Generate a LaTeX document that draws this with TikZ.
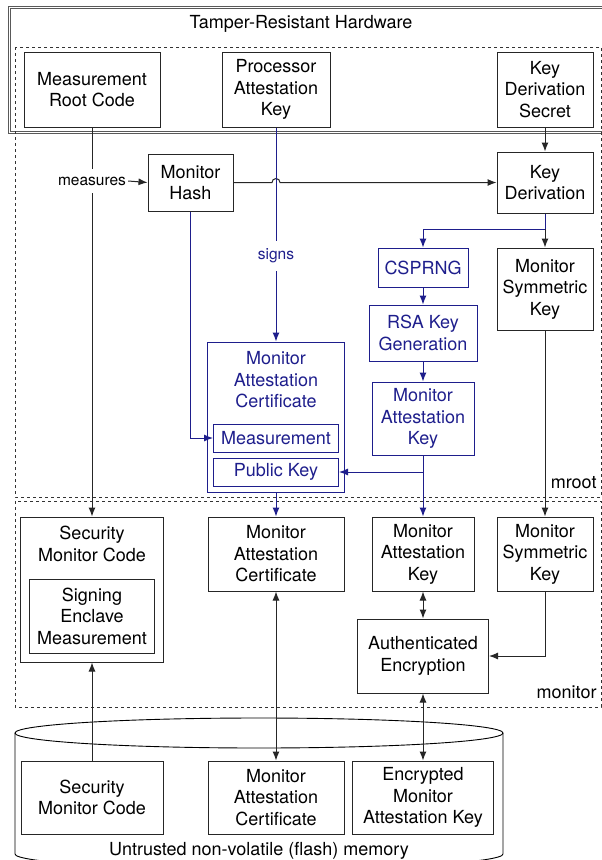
\documentclass[tikz,border=0pt]{standalone}
\usepackage{fontspec}
\setmainfont{TeX Gyre Heros}
\usetikzlibrary{arrows.meta,calc}
\definecolor{mblue}{RGB}{30,30,140}
\begin{document}
\begin{tikzpicture}[x=1pt,y=-1pt,
    >={Latex[length=9pt,width=7pt]},
    box/.style={draw=black!85,line width=1pt,align=center,inner sep=0pt,font=\fontsize{18}{21.5}\selectfont},
    bbox/.style={box,draw=mblue,text=mblue},
    lbl/.style={font=\fontsize{15.5}{18}\selectfont,fill=white,inner xsep=2pt,inner ysep=8pt},
    conn/.style={draw=black!85,line width=1pt},
    bconn/.style={draw=mblue,line width=1pt},
    region/.style={dashed,line width=0.9pt,draw=black!80}]
    \path[use as bounding box] (0,0) rectangle (602,860);
    \clip (0,0) rectangle (602,860);

    % regions
    \draw[line width=0.8pt,draw=black!65] (8,6) rectangle (612,133);
    \draw[line width=0.8pt,draw=black!65] (10,8) rectangle (610,131);
    \node[box,draw=none] (hw) at (301,24) {Tamper-Resistant Hardware};
    \draw[region] (15,47) rectangle (601,497);
    \draw[region] (15,501) rectangle (601,707);
    \node[box,draw=none,anchor=east] (mroot) at (597,483) {mroot};
    \node[box,draw=none,anchor=east] (monitor) at (597,692) {monitor};

    % untrusted storage
    \draw[line width=0.9pt] (259,733) ellipse [x radius=244,y radius=15];
    \draw[line width=0.9pt] (15,733) -- (15,854) arc[start angle=180,end angle=0,x radius=244,y radius=15] -- (503,733);
    \node[box,draw=none] (flash) at (259,851) {Untrusted non-volatile (flash) memory};

    % hardware
    \node[box,minimum width=136pt,minimum height=75pt] (mrc) at (92,89.5) {Measurement\\Root Code};
    \node[box,minimum width=108pt,minimum height=75pt] (pak) at (276,89.5) {Processor\\Attestation\\Key};
    \node[box,minimum width=96pt,minimum height=75pt] (kds) at (545,89.5) {Key\\Derivation\\Secret};

    % mroot
    \node[box,minimum width=85pt,minimum height=57pt] (hash) at (190.5,182.5) {Monitor\\Hash};
    \node[box,minimum width=96pt,minimum height=61pt] (kd) at (545,182.5) {Key\\Derivation};
    \node[bbox,minimum width=90pt,minimum height=39pt] (csprng) at (423,267.5) {CSPRNG};
    \node[box,minimum width=96pt,minimum height=82pt] (symk) at (545,289) {Monitor\\Symmetric\\Key};
    \node[bbox,minimum width=108pt,minimum height=56pt] (rsa) at (423,333) {RSA Key\\Generation};
    \node[bbox,minimum width=102pt,minimum height=73pt] (makb) at (423,418.5) {Monitor\\Attestation\\Key};
    \node[bbox,minimum width=137pt,minimum height=150pt] (certb) at (276,417) {};
    \node[bbox,draw=none] (certt) at (276,380) {Monitor\\Attestation\\Certificate};
    \node[bbox,minimum width=125pt,minimum height=28pt] (meas) at (276,438) {Measurement};
    \node[bbox,minimum width=125pt,minimum height=28pt] (pub) at (276,472) {Public Key};

    % monitor
    \node[box,minimum width=143pt,minimum height=145pt] (smc) at (92,589.5) {};
    \node[box,draw=none] (smct) at (92,544) {Security\\Monitor Code};
    \node[box,minimum width=125pt,minimum height=74pt] (sem) at (92,616) {Signing\\Enclave\\Measurement};
    \node[box,minimum width=136pt,minimum height=74pt] (certm) at (276,554) {Monitor\\Attestation\\Certificate};
    \node[box,minimum width=102pt,minimum height=74pt] (makm) at (423,554) {Monitor\\Attestation\\Key};
    \node[box,minimum width=96pt,minimum height=74pt] (symm) at (545,554) {Monitor\\Symmetric\\Key};
    \node[box,minimum width=131pt,minimum height=74pt] (ae) at (423,656) {Authenticated\\Encryption};

    % flash contents
    \node[box,minimum width=142pt,minimum height=73pt] (smcf) at (92,797.5) {Security\\Monitor Code};
    \node[box,minimum width=136pt,minimum height=73pt] (certf) at (276,797.5) {Monitor\\Attestation\\Certificate};
    \node[box,minimum width=141pt,minimum height=73pt] (emak) at (423,797.5) {Encrypted\\Monitor\\Attestation Key};

    % connectors
    \draw[conn,->] (mrc.south) -- (smc.north);
    \node[lbl] (measures) at (92,181) {measures};
    \draw[conn,->] (measures.east) -- (hash.west);
    \draw[conn,->] (hash.east) -- ($(pak.south |- hash.east)+(-4,0)$) arc[start angle=180,end angle=360,radius=4] -- (kd.west);
    \draw[conn,->] (kds.south) -- (kd.north);
    \coordinate (split) at (545,229);
    \draw[bconn,->] (kd.south) -- (split) -| (csprng.north);
    \draw[conn,->] (split) -- (symk.north);
    \draw[bconn,->] (pak.south) -- (certb.north);
    \node[lbl,text=mblue] (signs) at (276,256) {signs};
    \draw[bconn,->] (csprng.south) -- (rsa.north);
    \draw[bconn,->] (rsa.south) -- (makb.north);
    \draw[bconn,->] (hash.south) |- (meas.west);
    \draw[bconn,->] (makb.south) |- (pub.east);
    \draw[bconn,->] (makb.south) -- (makm.north);
    \draw[bconn,->] (certb.south) -- (certm.north);
    \draw[conn,->] (symk.south) -- (symm.north);
    \draw[conn,<->] (makm.south) -- (ae.north);
    \draw[conn,->] (symm.south) |- (ae.east);
    \draw[conn,->] (smcf.north) -- (smc.south);
    \draw[conn,<->] (certf.north) -- (certm.south);
    \draw[conn,<->] (emak.north) -- (ae.south);
\end{tikzpicture}
\end{document}
